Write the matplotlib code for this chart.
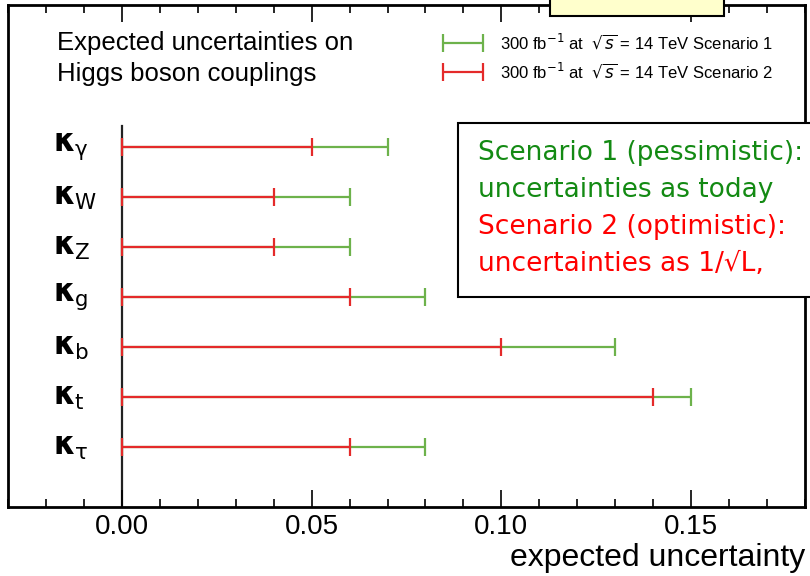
import numpy as np
import matplotlib.pyplot as plt
from matplotlib.patches import Rectangle
from matplotlib.ticker import MultipleLocator
from matplotlib.legend_handler import HandlerErrorbar

# expected uncertainties on Higgs couplings, 300 fb^-1 at 14 TeV
couplings = [r'\gamma', 'W', 'Z', 'g', 'b', 't', r'\tau']
scenario1 = [0.07, 0.06, 0.06, 0.08, 0.13, 0.15, 0.08]
scenario2 = [0.05, 0.04, 0.04, 0.06, 0.10, 0.14, 0.06]
xticks = [0.00, 0.05, 0.10, 0.15]
labels = [r'300 fb$^{-1}$ at  $\sqrt{s}$ = 14 TeV Scenario 1',
          r'300 fb$^{-1}$ at  $\sqrt{s}$ = 14 TeV Scenario 2']
note = ['Scenario 1 (pessimistic):', 'uncertainties as today',
        'Scenario 2 (optimistic):', 'uncertainties as 1/\u221aL,']

plt.rcParams['font.family'] = ['Liberation Sans', 'DejaVu Sans']

W, H = 810, 576
fig = plt.figure(figsize=(W / 100, H / 100), dpi=100)
ax = fig.add_axes([8 / W, 1 - 507 / H, 797 / W, 502 / H])

green = '#6db24b'
red = '#e42a2a'
ypos = np.arange(len(couplings))[::-1] + 1
zeros = np.zeros(len(ypos))

ax.errorbar(zeros, ypos, xerr=[zeros, scenario1], fmt='none', ecolor=green,
            elinewidth=1.6, capsize=6.5, capthick=1.6, label=labels[0])
ax.errorbar(zeros, ypos, xerr=[zeros, scenario2], fmt='none', ecolor=red,
            elinewidth=1.6, capsize=6.5, capthick=1.6, label=labels[1])

ax.set_xlim(-0.03, 0.18)
ax.set_ylim(-0.2, 9.84)
ax.axvline(0, ymax=(7.42 + 0.2) / 10.04, color='#222222', lw=1.6, zorder=1)

for y, c in zip(ypos, couplings):
    ax.text(0.056, y, r'$\mathbf{\kappa}_{\mathrm{%s}}$' % c, transform=ax.get_yaxis_transform(),
            fontsize=22, ha='left', va='center')

ax.set_xticks(xticks)
ax.set_xticklabels(['%.2f' % t for t in xticks])
ax.xaxis.set_minor_locator(MultipleLocator(0.01))
ax.set_yticks([])
ax.tick_params(axis='x', which='both', direction='in', top=True, bottom=True,
               labelsize=20, pad=5, width=1.2)
ax.tick_params(axis='x', which='major', length=12)
ax.tick_params(axis='x', which='minor', length=6)
for s in ax.spines.values():
    s.set_linewidth(2)
ax.set_xlabel('expected uncertainty', loc='right', fontsize=23, labelpad=2)

ax.text(0.0615, 0.948, 'Expected uncertainties on\nHiggs boson couplings',
        transform=ax.transAxes, fontsize=18.5, va='top', ha='left', linespacing=1.38)

ax.legend(loc='upper left', bbox_to_anchor=(0.527, 0.976), frameon=False,
          fontsize=12, handlelength=2.4, labelspacing=0.55, handletextpad=1.0,
          handler_map={type(ax.containers[0]): HandlerErrorbar(xerr_size=1.2)})

# overlaid slide annotations
fig.add_artist(Rectangle((550 / W, 1 - 16 / H), 174 / W, 40 / H, transform=fig.transFigure,
                         fc='#ffffcc', ec='black', lw=1.5, clip_on=False))
fig.add_artist(Rectangle((458 / W, 1 - 297 / H), 420 / W, 174 / H, transform=fig.transFigure,
                         fc='white', ec='black', lw=1.5, clip_on=False))
note_colors = ['#138a13', '#138a13', '#ff0000', '#ff0000']
for i, (t, c) in enumerate(zip(note, note_colors)):
    fig.text(478 / W, 1 - (153 + 37 * i) / H, t, color=c, fontsize=19,
             family='DejaVu Sans', va='center', ha='left')

fig.savefig('out.png', dpi=100)
